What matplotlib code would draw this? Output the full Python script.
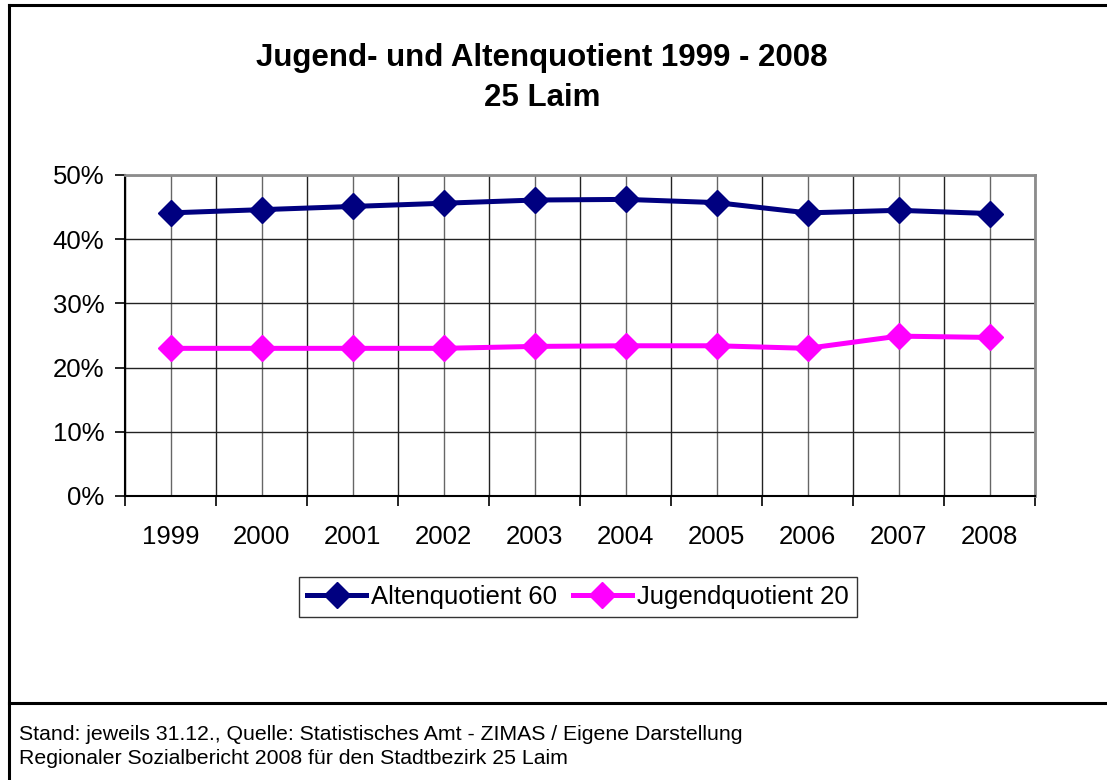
import numpy as np
import matplotlib.pyplot as plt
from matplotlib.lines import Line2D
from matplotlib.ticker import MultipleLocator, FuncFormatter

plt.rcParams['font.family'] = ['Liberation Sans', 'DejaVu Sans']

years = ['1999', '2000', '2001', '2002', '2003', '2004', '2005', '2006', '2007', '2008']
alten = [44.1, 44.6, 45.1, 45.6, 46.1, 46.2, 45.7, 44.1, 44.5, 44.0]
jugend = [23.0, 23.0, 23.0, 23.0, 23.3, 23.4, 23.4, 23.0, 24.9, 24.7]

fig = plt.figure(figsize=(11.07, 7.80), dpi=100)
ax = fig.add_axes([125 / 1107, 1 - 496 / 780, 910 / 1107, 321 / 780])

x = np.arange(len(years))
ax.plot(x, alten, color='#000080', lw=3.6, marker='D', ms=13.5,
        label='Altenquotient 60', zorder=3)
ax.plot(x, jugend, color='#FF00FF', lw=3.6, marker='D', ms=13.5,
        label='Jugendquotient 20', zorder=3)

ax.set_xlim(-0.5, len(years) - 0.5)
ax.set_ylim(0, 50)
ax.yaxis.set_major_locator(MultipleLocator(10))
ax.yaxis.set_major_formatter(FuncFormatter(lambda v, p: f'{v:.0f}%'))

# year labels at the centres, ticks on the category borders
ax.set_xticks(np.arange(-0.5, len(years), 1.0))
ax.set_xticklabels([])
ax.set_xticks(x, minor=True)
ax.set_xticklabels(years, minor=True)
ax.tick_params(axis='x', which='major', length=7, width=1.2, direction='out')
ax.tick_params(axis='x', which='minor', length=0, pad=21, labelsize=18.5)
ax.tick_params(axis='y', length=7, width=1.2, direction='out', pad=8, labelsize=18.5)

ax.grid(True, axis='y', color='#222222', lw=1.0)
ax.grid(True, axis='x', which='major', color='#222222', lw=1.0)
ax.grid(True, axis='x', which='minor', color='#666666', lw=1.0)
ax.set_axisbelow(True)

for s in ['top', 'right']:
    ax.spines[s].set_color('#8c8c8c')
    ax.spines[s].set_linewidth(2.0)
for s in ['left', 'bottom']:
    ax.spines[s].set_color('black')
    ax.spines[s].set_linewidth(1.5)

fig.text(542 / 1107, 1 - 58 / 780, 'Jugend- und Altenquotient 1999 - 2008',
         ha='center', va='center', fontsize=22.5, fontweight='bold')
fig.text(542 / 1107, 1 - 98 / 780, '25 Laim',
         ha='center', va='center', fontsize=22.5, fontweight='bold')

leg = fig.legend(loc='center', bbox_to_anchor=(578 / 1107, 1 - 597 / 780),
                 ncol=2, fontsize=18.5, frameon=True, fancybox=False,
                 handlelength=2.3, handletextpad=0.2, columnspacing=0.6,
                 borderpad=0.3, borderaxespad=0)
leg.get_frame().set_edgecolor('black')
leg.get_frame().set_linewidth(1.0)

# outer frame and footer separator
fig.add_artist(Line2D([9 / 1107, 9 / 1107], [0, 1 - 5 / 780], color='black', lw=2.2))
fig.add_artist(Line2D([9 / 1107, 1], [1 - 5 / 780, 1 - 5 / 780], color='black', lw=2.2))
fig.add_artist(Line2D([9 / 1107, 1], [1 - 703 / 780, 1 - 703 / 780], color='black', lw=2.2))

fig.text(19 / 1107, 1 - 735 / 780,
         'Stand: jeweils 31.12., Quelle: Statistisches Amt - ZIMAS / Eigene Darstellung',
         ha='left', va='center', fontsize=15.3)
fig.text(19 / 1107, 1 - 759 / 780,
         'Regionaler Sozialbericht 2008 f\u00fcr den Stadtbezirk 25 Laim',
         ha='left', va='center', fontsize=15.3)

fig.savefig('out.png', dpi=100)
